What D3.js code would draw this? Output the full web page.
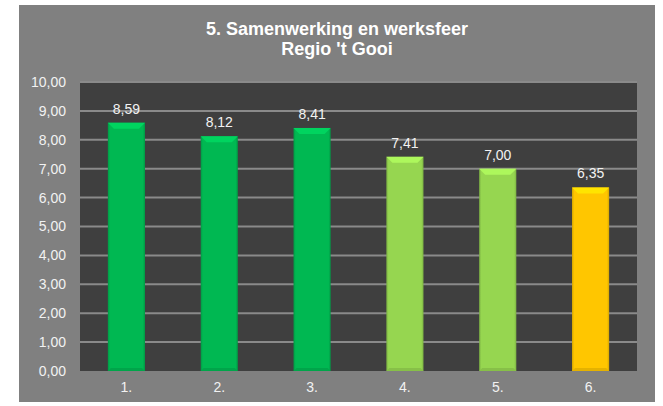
<!DOCTYPE html>
<html>
<head>
<meta charset="utf-8">
<script src="https://cdn.jsdelivr.net/npm/d3@7"></script>
<style>
  body { margin: 0; background: #ffffff; }
  svg text { font-family: "Liberation Sans", Arial, sans-serif; }
</style>
</head>
<body>
<div id="chart"></div>
<script>
'use strict';

/**** DATA ****/
var categories = ["1.", "2.", "3.", "4.", "5.", "6."];
var scores = [8.59, 8.12, 8.41, 7.41, 7.00, 6.35];
var barColors = ["#00b852", "#00b852", "#00b852", "#96d650", "#96d650", "#ffc600"];
var yTicks = [0, 1, 2, 3, 4, 5, 6, 7, 8, 9, 10];
var titleLines = ["5. Samenwerking en werksfeer", "Regio 't Gooi"];

var width = 663, height = 406;
var fmt = function(v) { return d3.format(".2f")(v).replace(".", ","); };

var svg = d3.select("#chart").append("svg")
  .attr("width", width)
  .attr("height", height);

// outer gray chart area
svg.append("rect")
  .attr("x", 19).attr("y", 5)
  .attr("width", 636).attr("height", 397)
  .attr("fill", "#808080");

var plot = { left: 80, right: 637, top: 82, bottom: 371 };

var x = d3.scaleBand()
  .domain(categories)
  .range([plot.left, plot.right])
  .paddingInner(0.6)
  .paddingOuter(0.3);

var y = d3.scaleLinear()
  .domain([0, 10])
  .range([plot.bottom, plot.top]);

// dark plot background
svg.append("rect")
  .attr("x", plot.left).attr("y", plot.top)
  .attr("width", plot.right - plot.left)
  .attr("height", plot.bottom - plot.top)
  .attr("fill", "#3f3f3f");

// gridlines
svg.append("g")
  .selectAll("line")
  .data(yTicks.slice(1))
  .enter().append("line")
  .attr("x1", plot.left).attr("x2", plot.right)
  .attr("y1", function(d) { return y(d); })
  .attr("y2", function(d) { return y(d); })
  .attr("stroke", "#8a8a8a")
  .attr("stroke-width", 2);

// y axis labels
var yAxis = d3.axisLeft(y).tickValues(yTicks).tickFormat(fmt).tickSize(0).tickPadding(14);
var yg = svg.append("g").attr("transform", "translate(" + plot.left + ",0)").call(yAxis);
yg.select(".domain").remove();
yg.selectAll("text").attr("fill", "#f2f2f2").style("font-size", "14px");

// x axis labels
var xAxis = d3.axisBottom(x).tickSize(0).tickPadding(11);
var xg = svg.append("g").attr("transform", "translate(0," + plot.bottom + ")").call(xAxis);
xg.select(".domain").remove();
xg.selectAll("text").attr("fill", "#f2f2f2").style("font-size", "14px");

// gradients for bevelled bars
var defs = svg.append("defs");
var uniqueColors = Array.from(new Set(barColors));
uniqueColors.forEach(function(c, i) {
  var g = defs.append("linearGradient")
    .attr("id", "grad" + i)
    .attr("x1", "0%").attr("x2", "100%").attr("y1", "0%").attr("y2", "0%");
  var base = d3.color(c);
  g.append("stop").attr("offset", "0%").attr("stop-color", base.darker(0.5));
  g.append("stop").attr("offset", "6%").attr("stop-color", base);
  g.append("stop").attr("offset", "94%").attr("stop-color", base);
  g.append("stop").attr("offset", "100%").attr("stop-color", base.darker(0.5));
});

var bars = svg.append("g")
  .selectAll("g")
  .data(scores)
  .enter().append("g");

bars.append("rect")
  .attr("x", function(d, i) { return x(categories[i]); })
  .attr("y", function(d) { return y(d); })
  .attr("width", x.bandwidth())
  .attr("height", function(d) { return y(0) - y(d); })
  .attr("fill", function(d, i) { return "url(#grad" + uniqueColors.indexOf(barColors[i]) + ")"; });

// top bevel
bars.append("path")
  .attr("d", function(d, i) {
    var x0 = x(categories[i]), x1 = x0 + x.bandwidth(), y0 = y(d), b = 6;
    return "M" + x0 + "," + y0 + "L" + x1 + "," + y0 + "L" + (x1 - b) + "," + (y0 + b) +
      "L" + (x0 + b) + "," + (y0 + b) + "Z";
  })
  .attr("fill", function(d, i) { return d3.color(barColors[i]).brighter(0.4); });

// bottom bevel
bars.append("path")
  .attr("d", function(d, i) {
    var x0 = x(categories[i]), x1 = x0 + x.bandwidth(), y0 = y(0), b = 3;
    return "M" + x0 + "," + y0 + "L" + x1 + "," + y0 + "L" + (x1 - b) + "," + (y0 - b) +
      "L" + (x0 + b) + "," + (y0 - b) + "Z";
  })
  .attr("fill", function(d, i) { return d3.color(barColors[i]).darker(0.3); });

// value labels
bars.append("text")
  .attr("x", function(d, i) { return x(categories[i]) + x.bandwidth() / 2; })
  .attr("y", function(d) { return y(d) - 9; })
  .attr("text-anchor", "middle")
  .attr("fill", "#f2f2f2")
  .style("font-size", "14px")
  .text(function(d) { return fmt(d); });

// title
svg.append("g")
  .selectAll("text")
  .data(titleLines)
  .enter().append("text")
  .attr("x", 337)
  .attr("y", function(d, i) { return 35 + i * 20; })
  .attr("text-anchor", "middle")
  .attr("fill", "#ffffff")
  .style("font-size", "18px")
  .style("font-weight", "bold")
  .text(function(d) { return d; });
</script>
</body>
</html>
